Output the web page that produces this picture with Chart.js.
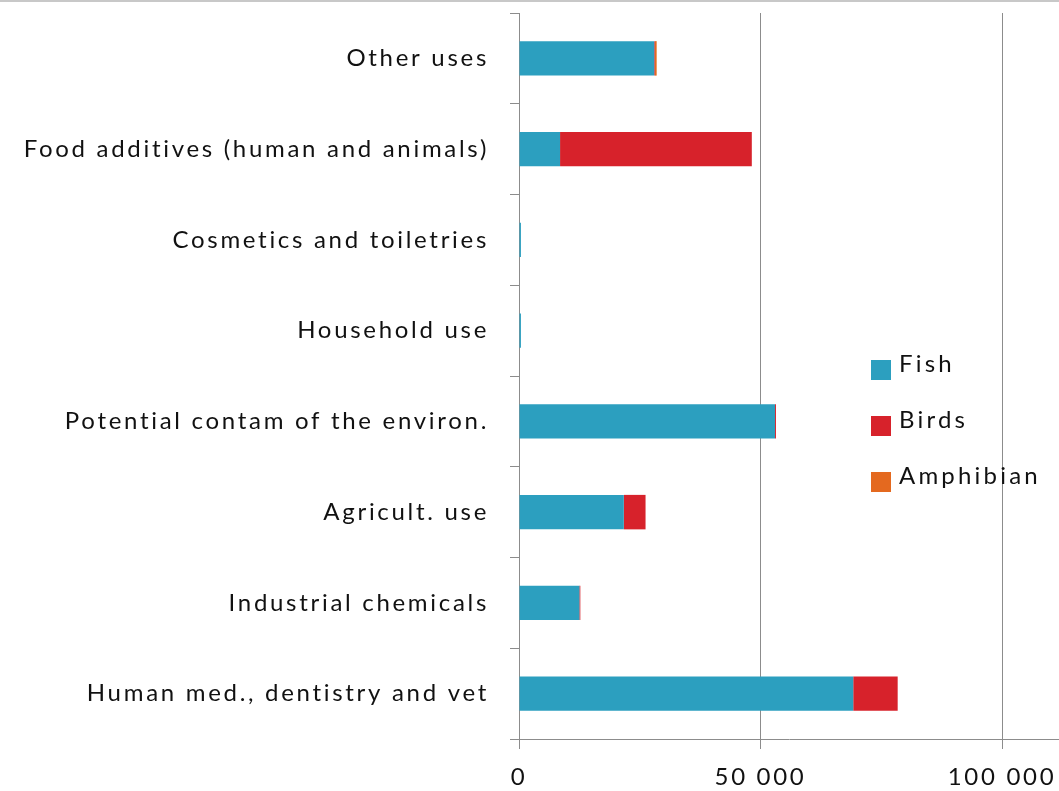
<!DOCTYPE html>
<html>
<head>
<meta charset="utf-8">
<script src="https://cdn.jsdelivr.net/npm/chart.js@4.4.0/dist/chart.umd.min.js"></script>
<style>
  html, body { margin: 0; padding: 0; background: #fff; }
</style>
</head>
<body>
<canvas id="myChart" width="1059" height="791"></canvas>
<script>
const categories = [
  'Other uses',
  'Food additives (human and animals)',
  'Cosmetics and toiletries',
  'Household use',
  'Potential contam of the environ.',
  'Agricult. use',
  'Industrial chemicals',
  'Human med., dentistry and vet'
];
const fish      = [28000, 8500, 400, 400, 53000, 21700, 12500, 69200];
const birds     = [150, 39700, 0, 0, 200, 4500, 200, 9200];
const amphibian = [350, 0, 0, 0, 0, 0, 0, 0];
const xTicks = [0, 50000, 100000];

const FONT = 'Lato, "Open Sans", sans-serif';
const GRID = '#8c8c8c';

function fmt(v) {
  return String(v).replace(/\B(?=(\d{3})+(?!\d))/g, ' ');
}

// wider letter spacing for all chart text (reference font is spaced out)
const spacing = {
  id: 'spacing',
  beforeDraw(chart) {
    chart.ctx.letterSpacing = '2.7px';
  }
};

// legend drawn inside the plot, to the right of the bars
const sideLegend = {
  id: 'sideLegend',
  afterDraw(chart) {
    const ctx = chart.ctx;
    ctx.save();
    // thin frame line at the very top
    ctx.strokeStyle = '#c8c8c8';
    ctx.lineWidth = 2;
    ctx.beginPath();
    ctx.moveTo(0, 1);
    ctx.lineTo(chart.width, 1);
    ctx.stroke();

    ctx.font = '24px ' + FONT;
    ctx.letterSpacing = '3.2px';
    ctx.textBaseline = 'middle';
    chart.data.datasets.forEach((ds, i) => {
      const y = 370 + i * 56;
      ctx.fillStyle = ds.backgroundColor;
      ctx.fillRect(871, y - 10, 20, 20);
      ctx.fillStyle = '#111';
      ctx.fillText(ds.label, 899, y - 6);
    });
    ctx.restore();
  }
};

const ctx = document.getElementById('myChart').getContext('2d');
const myChart = new Chart(ctx, {
  type: 'bar',
  data: {
    labels: categories,
    datasets: [
      { label: 'Fish', data: fish, backgroundColor: '#2c9fbf' },
      { label: 'Birds', data: birds, backgroundColor: '#d7222b' },
      { label: 'Amphibian', data: amphibian, backgroundColor: '#e4691f' }
    ]
  },
  options: {
    indexAxis: 'y',
    responsive: false,
    devicePixelRatio: 1,
    animation: false,
    layout: { padding: { top: 13, left: 0, right: 0, bottom: 0 } },
    datasets: {
      bar: { categoryPercentage: 1, barPercentage: 0.38, borderWidth: 0 }
    },
    plugins: {
      legend: { display: false },
      tooltip: { enabled: false }
    },
    scales: {
      x: {
        stacked: true,
        min: 0,
        max: 111800,
        afterBuildTicks: (s) => { s.ticks = xTicks.map(v => ({ value: v })); },
        afterFit: (s) => { s.height = 52; s.paddingLeft = 0; s.paddingRight = 0; },
        grid: { color: GRID, lineWidth: 1, tickLength: 10 },
        border: { color: GRID, width: 1 },
        ticks: {
          color: '#111',
          padding: 14,
          maxRotation: 0,
          font: { family: FONT, size: 24 },
          callback: (v) => fmt(v)
        }
      },
      y: {
        stacked: true,
        afterFit: (s) => { s.width = 519; s.paddingTop = 0; s.paddingBottom = 0; },
        grid: { offset: true, drawOnChartArea: false, color: GRID, tickLength: 9 },
        border: { color: GRID, width: 1 },
        ticks: {
          color: '#111',
          padding: 21,
          font: { family: FONT, size: 24 }
        }
      }
    }
  },
  plugins: [spacing, sideLegend]
});
</script>
</body>
</html>
